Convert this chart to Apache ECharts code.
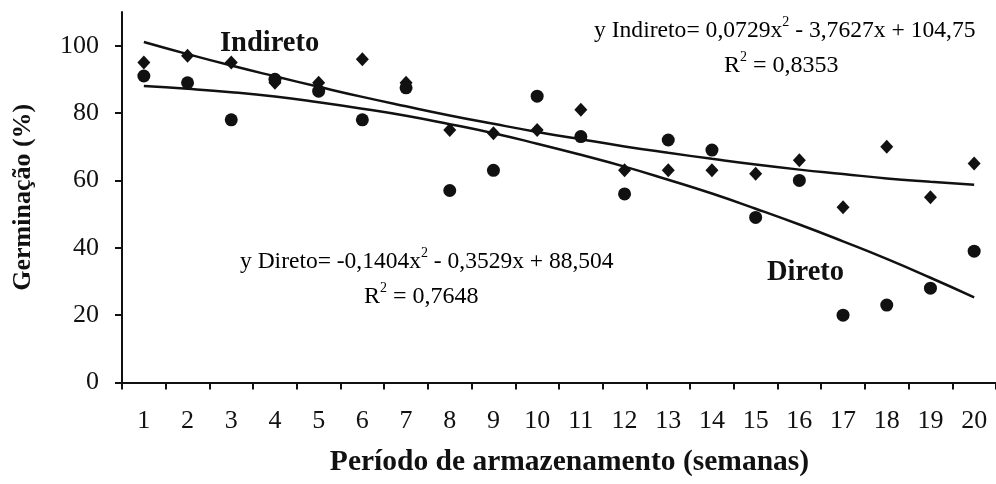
<!DOCTYPE html>
<html>
<head>
<meta charset="utf-8">
<script src="https://cdn.jsdelivr.net/npm/echarts@6/dist/echarts.min.js"></script>
<style>
html,body{margin:0;padding:0;background:#fff;}
#c{width:996px;height:484px;}
</style>
</head>
<body>
<div id="c"></div>
<script>
const weeks = ['1','2','3','4','5','6','7','8','9','10','11','12','13','14','15','16','17','18','19','20'];
const yTicks = [0, 20, 40, 60, 80, 100];
const indireto = [95, 97, 95, 89, 89, 96, 89, 75, 74, 75, 81, 63, 63, 63, 62, 66, 52, 70, 55, 65];
const direto = [91, 89, 78, 90, 86.5, 78, 87.5, 57, 63, 85, 73, 56, 72, 69, 49, 60, 20, 23, 28, 39];
const indiretoTrend = [101.1, 97.5, 94.1, 90.9, 87.8, 84.8, 82.0, 79.3, 76.8, 74.4, 72.2, 70.1, 68.2, 66.4, 64.7, 63.2, 61.9, 60.6, 59.6, 58.7];
const diretoTrend = [88.0, 87.2, 86.2, 84.9, 83.2, 81.3, 79.2, 76.7, 74.0, 70.9, 67.6, 64.1, 60.2, 56.1, 51.6, 46.9, 41.9, 36.7, 31.1, 25.3];

const ink = '#111111';
const serif = '"Liberation Serif", "DejaVu Serif", serif';

function eq(text, size) {
  return {
    text: text,
    rich: {
      n: { fontFamily: serif, fontSize: size, color: ink, lineHeight: 28, verticalAlign: 'bottom' },
      s: { fontFamily: serif, fontSize: 14, color: ink, lineHeight: 28, verticalAlign: 'top' }
    }
  };
}

const chart = echarts.init(document.getElementById('c'));
chart.setOption({
  animation: false,
  backgroundColor: '#fff',
  grid: { left: 122, top: 12, width: 884, height: 370.5, containLabel: false },
  xAxis: {
    type: 'category',
    data: weeks,
    boundaryGap: true,
    name: 'Período de armazenamento (semanas)',
    nameLocation: 'middle',
    nameGap: 65,
    nameTextStyle: { fontFamily: serif, fontWeight: 'bold', fontSize: 29.5, color: ink, padding: [0, 0, 0, 21] },
    axisLine: { lineStyle: { color: ink, width: 2 } },
    axisTick: { show: true, alignWithLabel: false, inside: false, length: 7, lineStyle: { color: ink, width: 2 } },
    axisLabel: { fontFamily: serif, fontSize: 26, color: ink, margin: 26, interval: 0 },
    splitLine: { show: false }
  },
  yAxis: {
    type: 'value',
    min: 0,
    max: 110,
    interval: 20,
    name: 'Germinação (%)',
    nameLocation: 'middle',
    nameGap: 86,
    nameTextStyle: { fontFamily: serif, fontWeight: 'bold', fontSize: 26, color: ink },
    axisLine: { show: true, lineStyle: { color: ink, width: 2 } },
    axisTick: { show: true, length: 7, lineStyle: { color: ink, width: 2 }, customValues: yTicks },
    axisLabel: { fontFamily: serif, fontSize: 26, color: ink, margin: 23, customValues: yTicks },
    splitLine: { show: false }
  },
  series: [
    {
      name: 'Indireto', type: 'scatter', data: indireto,
      symbol: 'diamond', symbolSize: [13, 14],
      itemStyle: { color: ink, opacity: 1 }, z: 3
    },
    {
      name: 'Direto', type: 'scatter', data: direto,
      symbol: 'circle', symbolSize: 13,
      itemStyle: { color: ink, opacity: 1 }, z: 3
    },
    {
      name: 'Indireto ajuste', type: 'line', data: indiretoTrend,
      smooth: true, showSymbol: false, symbol: 'none',
      lineStyle: { color: ink, width: 2.5 }, z: 2
    },
    {
      name: 'Direto ajuste', type: 'line', data: diretoTrend,
      smooth: true, showSymbol: false, symbol: 'none',
      lineStyle: { color: ink, width: 2.5 }, z: 2
    }
  ],
  graphic: [
    { type: 'text', left: 220, top: 29, style: { text: 'Indireto', font: 'bold 28.5px ' + serif, fill: ink } },
    { type: 'text', left: 767, top: 258, style: { text: 'Direto', font: 'bold 28.5px ' + serif, fill: ink } },
    { type: 'text', left: 594, top: 15, style: eq('{n|y Indireto= 0,0729x}{s|2}{n| - 3,7627x + 104,75}', 23.6) },
    { type: 'text', left: 724, top: 50, style: eq('{n|R}{s|2}{n| = 0,8353}', 24) },
    { type: 'text', left: 240, top: 246, style: eq('{n|y Direto= -0,1404x}{s|2}{n| - 0,3529x + 88,504}', 23.5) },
    { type: 'text', left: 364, top: 281, style: eq('{n|R}{s|2}{n| = 0,7648}', 24) }
  ]
});
</script>
</body>
</html>
